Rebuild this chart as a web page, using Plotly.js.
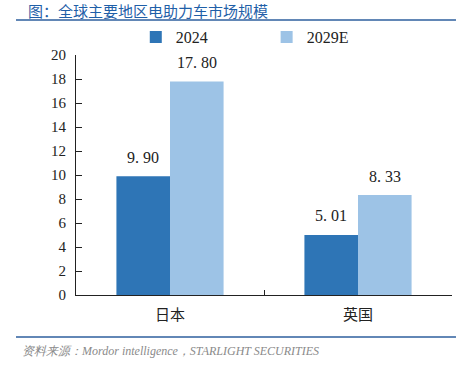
<!DOCTYPE html>
<html>
<head>
<meta charset="utf-8">
<script src="https://cdn.plot.ly/plotly-3.0.1.min.js"></script>
<style>html,body{margin:0;padding:0;background:#fff;}#chart{width:471px;height:376px;}</style>
</head>
<body>
<div id="chart"></div>
<script>
const categories = ['日本', '英国'];
const series2024 = [9.90, 5.01];
const series2029E = [17.80, 8.33];
const seriesNames = ['2024', '2029E'];
const yTicks = [0, 2, 4, 6, 8, 10, 12, 14, 16, 18, 20];
const titleText = '图：全球主要地区电助力车市场规模';
const sourceText = '资料来源：Mordor intelligence，STARLIGHT SECURITIES';

const c1 = '#2e75b6', c2 = '#9dc3e6';
const serif = "'Liberation Serif', 'DejaVu Serif', serif";
const numFont = {family: serif, size: 15, color: '#222'};
const cjkFont = "'Noto Sans CJK SC', 'Noto Sans', sans-serif";

const traces = [
  {type: 'bar', x: categories, y: series2024, name: seriesNames[0], marker: {color: c1}, hoverinfo: 'none', legend: 'legend'},
  {type: 'bar', x: categories, y: series2029E, name: seriesNames[1], marker: {color: c2}, hoverinfo: 'none', legend: 'legend2'}
];

const annotations = [];
[series2024, series2029E].forEach((s, si) => {
  s.forEach((v, i) => {
    annotations.push({
      x: categories[i], y: v, xref: 'x', yref: 'y',
      text: v.toFixed(2).replace('.', '. '), showarrow: false,
      xshift: si === 0 ? -27 : 27, yshift: 19, yanchor: 'middle',
      font: {family: serif, size: 16, color: '#222'}
    });
  });
});
annotations.push({
  x: -0.133, y: 1.185, xref: 'paper', yref: 'paper', xanchor: 'left', yanchor: 'middle',
  text: titleText, showarrow: false, font: {family: cjkFont, size: 15, color: '#1f5fa8'}
});
annotations.push({
  x: -0.149, y: -0.233, xref: 'paper', yref: 'paper', xanchor: 'left', yanchor: 'middle',
  text: sourceText, showarrow: false,
  font: {family: serif, size: 12, color: '#8a8a8a', style: 'italic'}
});

const legendBase = {
  orientation: 'h', y: 1.075, xanchor: 'left', yanchor: 'middle',
  font: {family: serif, size: 16, color: '#222'}, itemwidth: 30,
  bgcolor: 'rgba(0,0,0,0)', borderwidth: 0
};

const layout = {
  width: 471, height: 376,
  margin: {l: 76, r: 19, t: 55, b: 81},
  paper_bgcolor: '#fff', plot_bgcolor: '#fff',
  barmode: 'group', bargap: 0.43, bargroupgap: 0,
  showlegend: true,
  legend: Object.assign({}, legendBase, {x: 0.159}),
  legend2: Object.assign({}, legendBase, {x: 0.507}),
  xaxis: {
    type: 'category', showline: true, linecolor: '#222', linewidth: 1,
    ticks: 'inside', ticklen: 5, tickcolor: '#222', tickson: 'boundaries',
    tickfont: {family: cjkFont, size: 15, color: '#222'}, showgrid: false,
    ticklabelstandoff: 6
  },
  yaxis: {
    range: [0, 20], tickvals: yTicks, showline: true, linecolor: '#222', linewidth: 1,
    ticks: 'inside', ticklen: 6, tickcolor: '#222', showgrid: false, zeroline: false,
    tickfont: numFont, ticklabelstandoff: 6
  },
  shapes: [
    {type: 'line', xref: 'paper', yref: 'paper', x0: -0.1596, x1: 1.0106, y0: 1.1458, y1: 1.1458, line: {color: '#2e5f9e', width: 1.5}},
    {type: 'line', xref: 'paper', yref: 'paper', x0: -0.1596, x1: 1.0106, y0: -0.175, y1: -0.175, line: {color: '#2e5f9e', width: 1.5}}
  ],
  annotations: annotations
};

Plotly.newPlot('chart', traces, layout, {staticPlot: true, displayModeBar: false});
</script>
</body>
</html>
